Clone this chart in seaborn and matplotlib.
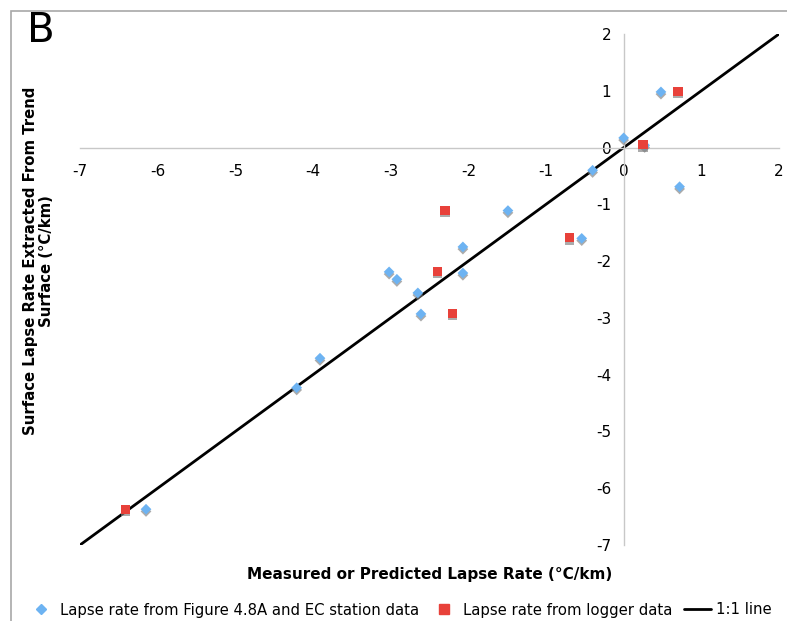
import matplotlib
matplotlib.use("Agg")
import matplotlib.pyplot as plt
import matplotlib.patheffects as pe
from matplotlib.patches import Rectangle
from matplotlib.lines import Line2D
import seaborn as sns
import pandas as pd

# ---- data ----
ec_x = [0.48, 0.72, 0.00, 0.27, -0.40, -1.49, -0.54, -2.07, -2.07, -3.02, -2.92, -2.65, -2.61, -3.91, -4.21, -6.15]
ec_y = [0.98, -0.69, 0.17, 0.04, -0.40, -1.11, -1.60, -1.75, -2.21, -2.19, -2.32, -2.56, -2.93, -3.71, -4.23, -6.37]
log_x = [0.70, 0.25, -2.30, -0.70, -2.40, -2.20, -6.41]
log_y = [0.99, 0.05, -1.11, -1.59, -2.18, -2.92, -6.37]
line_x = [-7, 2]
line_y = [-7, 2]
xticks = list(range(-7, 3))
yticks = list(range(-7, 3))

ec_label = "Lapse rate from Figure 4.8A and EC station data"
log_label = "Lapse rate from logger data"
line_label = "1:1 line"
xlabel = "Measured or Predicted Lapse Rate (°C/km)"
ylabel = "Surface Lapse Rate Extracted From Trend\nSurface (°C/km)"
panel = "B"

blue = "#6DB3F2"
red = "#E8413A"

sns.set_theme(style="white")
plt.rcParams["font.family"] = ["DejaVu Sans"]
plt.rcParams["axes.unicode_minus"] = False
plt.rcParams["text.color"] = "black"

fig = plt.figure(figsize=(7.87, 6.21), dpi=100)
ax = fig.add_axes([80/787, 1-545/621, (779-80)/787, (545-34)/621])

ec_df = pd.DataFrame({"x": ec_x, "y": ec_y})
log_df = pd.DataFrame({"x": log_x, "y": log_y})
line_df = pd.DataFrame({"x": line_x, "y": line_y})

shadow = [pe.SimplePatchShadow(offset=(0, -1.6), shadow_rgbFace="#7F7F7F", alpha=0.65), pe.Normal()]

sns.lineplot(data=line_df, x="x", y="y", ax=ax, color="black", linewidth=2, zorder=2)
sns.scatterplot(data=ec_df, x="x", y="y", ax=ax, marker="D", s=30, color=blue,
                edgecolor="none", linewidth=0, zorder=3)
ax.collections[-1].set_path_effects(shadow)
sns.scatterplot(data=log_df, x="x", y="y", ax=ax, marker="s", s=45, color=red,
                edgecolor="none", linewidth=0, zorder=4)
ax.collections[-1].set_path_effects(shadow)

ax.set_xlim(-7, 2)
ax.set_ylim(-7, 2)
ax.set_xticks(xticks)
ax.set_yticks(yticks)
ax.set_xticklabels([str(t) for t in xticks])
ax.set_yticklabels([str(t) for t in yticks])
ax.set_xlabel("")
ax.set_ylabel("")

for side in ["top", "right"]:
    ax.spines[side].set_visible(False)
ax.spines["left"].set_position(("data", 0))
ax.spines["bottom"].set_position(("data", 0))
for side in ["left", "bottom"]:
    ax.spines[side].set_color("#C8C8C8")
    ax.spines[side].set_linewidth(1.0)
ax.tick_params(axis="both", which="major", direction="out", length=4, width=1,
               color="#C8C8C8", labelsize=11, labelcolor="black")
ax.tick_params(axis="x", pad=8)
ax.tick_params(axis="y", pad=5)
ax.grid(False)

fig.text(430/787, 1-574/621, xlabel, ha="center", va="center", fontsize=11,
         fontweight="bold", color="black")
fig.text(38.5/787, 1-261/621, ylabel, ha="center", va="center", rotation=90,
         fontsize=10.7, fontweight="bold", multialignment="center", linespacing=1.15,
         color="black")
fig.text(27/787, 1-31/621, panel, ha="left", va="center", fontsize=29, color="black")

# figure border
fig.patches.append(Rectangle((10.5/787, -0.1), 1.2, 1.1 - 10.5/621,
                             transform=fig.transFigure, fill=False,
                             edgecolor="#A8A8A8", linewidth=1.2))

handles = [
    Line2D([], [], linestyle="none", marker="D", markersize=5, color=blue),
    Line2D([], [], linestyle="none", marker="s", markersize=6.5, color=red),
    Line2D([], [], color="black", linewidth=2),
]
fig.legend(handles, [ec_label, log_label, line_label], loc="center",
           bbox_to_anchor=(400/787, 11/621), ncol=3, frameon=False, fontsize=10.7,
           handlelength=1.8, handletextpad=0.35, columnspacing=0.8, borderpad=0,
           labelcolor="black")

fig.savefig("out.png", dpi=100, facecolor="white")
